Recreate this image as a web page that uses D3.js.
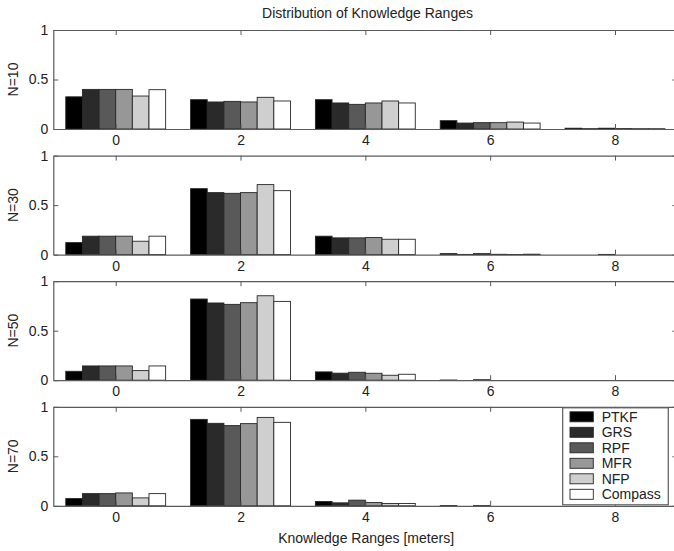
<!DOCTYPE html>
<html>
<head>
<meta charset="utf-8">
<script src="https://cdn.jsdelivr.net/npm/d3@7"></script>
<style>
  html, body { margin: 0; padding: 0; background: #fff; }
  svg { display: block; font-family: "Liberation Sans", Arial, sans-serif; }
</style>
</head>
<body>
<svg id="chart" width="674" height="551"></svg>
<script>
// Knowledge range bins (meters) and the estimation methods compared
const ranges = [0, 2, 4, 6, 8];
const methods = ["PTKF", "GRS", "RPF", "MFR", "NFP", "Compass"];
const panelLabels = ["N=10", "N=30", "N=50", "N=70"];
const yTicks = [0, 0.5, 1];

// Fraction of samples per range bin; one row per method, one column per range
const n10 = [
  [0.325, 0.296, 0.296, 0.084, 0.008],
  [0.400, 0.273, 0.263, 0.060, 0.003],
  [0.400, 0.279, 0.249, 0.064, 0.008],
  [0.400, 0.273, 0.263, 0.064, 0.004],
  [0.333, 0.320, 0.283, 0.070, 0.003],
  [0.397, 0.283, 0.263, 0.060, 0.003]
];
const n30 = [
  [0.121, 0.666, 0.186, 0.010, 0.000],
  [0.186, 0.626, 0.169, 0.002, 0.000],
  [0.186, 0.619, 0.169, 0.010, 0.002],
  [0.186, 0.626, 0.172, 0.003, 0.000],
  [0.135, 0.707, 0.155, 0.001, 0.000],
  [0.186, 0.646, 0.155, 0.004, 0.000]
];
const n50 = [
  [0.090, 0.820, 0.084, 0.002, 0.000],
  [0.144, 0.780, 0.071, 0.000, 0.000],
  [0.144, 0.766, 0.080, 0.005, 0.000],
  [0.144, 0.783, 0.070, 0.000, 0.000],
  [0.097, 0.853, 0.050, 0.000, 0.000],
  [0.144, 0.796, 0.060, 0.000, 0.000]
];
const n70 = [
  [0.073, 0.873, 0.043, 0.002, 0.000],
  [0.123, 0.833, 0.030, 0.000, 0.000],
  [0.123, 0.810, 0.057, 0.002, 0.000],
  [0.130, 0.830, 0.033, 0.000, 0.000],
  [0.080, 0.893, 0.023, 0.000, 0.000],
  [0.123, 0.843, 0.023, 0.000, 0.000]
];
const panelData = [n10, n30, n50, n70];

const fills = ["#000000", "#2a2a2a", "#595959", "#979797", "#cfcfcf", "#ffffff"];
const axisColor = "#5a5a5a";

const svg = d3.select("#chart");
const left = 53.3, right = 677.4;
const panelTop0 = 30, panelStep = 125.6, panelH = 99;

const x = d3.scaleLinear().domain([-1, 9]).range([left, right]);
// grouped bars occupy 80% of the spacing between bins
const groupW = x(1.6) - x(0);
const inner = d3.scaleBand().domain(methods).range([-groupW / 2, groupW / 2]).padding(0);
const color = d3.scaleOrdinal().domain(methods).range(fills);

svg.append("text")
  .attr("x", (263 + 472) / 2).attr("y", 17.5)
  .attr("text-anchor", "middle")
  .attr("font-size", 14).attr("fill", "#222")
  .text("Distribution of Knowledge Ranges");

panelData.forEach((rows, p) => {
  const top = panelTop0 + p * panelStep;
  const bottom = top + panelH;
  const y = d3.scaleLinear().domain([0, 1]).range([bottom, top]);
  const g = svg.append("g");

  const cells = [];
  rows.forEach((vals, m) => vals.forEach((v, r) => cells.push({ m: methods[m], r: ranges[r], v })));

  g.selectAll("rect.bar").data(cells).join("rect")
    .attr("class", "bar")
    .attr("x", d => x(d.r) + inner(d.m))
    .attr("width", inner.bandwidth())
    .attr("y", d => y(d.v))
    .attr("height", d => y(0) - y(d.v))
    .attr("fill", d => color(d.m))
    .attr("stroke", "#262626")
    .attr("stroke-width", 0.9);

  const styleAxis = sel => {
    sel.attr("color", axisColor).attr("font-size", 14)
      .attr("font-family", "'Liberation Sans', Arial, sans-serif");
    sel.selectAll("text").attr("fill", "#222");
    sel.select(".domain").attr("stroke-width", 1.2);
  };

  g.append("g").attr("transform", `translate(0,${bottom})`)
    .call(d3.axisBottom(x).tickValues(ranges).tickSize(-5).tickSizeOuter(0).tickPadding(6).tickFormat(d3.format("d")))
    .call(styleAxis);
  g.append("g").attr("transform", `translate(0,${top})`)
    .call(d3.axisTop(x).tickValues(ranges).tickSize(-5).tickSizeOuter(0).tickFormat(""))
    .call(styleAxis);
  g.append("g").attr("transform", `translate(${left},0)`)
    .call(d3.axisLeft(y).tickValues(yTicks).tickSize(-5).tickSizeOuter(0).tickPadding(5).tickFormat(d3.format("~g")))
    .call(styleAxis);
  g.append("g").attr("transform", `translate(${right},0)`)
    .call(d3.axisRight(y).tickValues(yTicks).tickSize(-5).tickSizeOuter(0).tickFormat(""))
    .call(styleAxis);

  g.append("text")
    .attr("transform", `translate(13,${(top + bottom) / 2}) rotate(-90)`)
    .attr("text-anchor", "middle").attr("dy", "0.35em")
    .attr("font-size", 14).attr("fill", "#222")
    .text(panelLabels[p]);

  if (p === panelData.length - 1) {
    const lg = g.append("g");
    const lx0 = 562.7, ly0 = top + 1, lw = 105.6, lh = panelH - 2;
    lg.append("rect").attr("x", lx0).attr("y", ly0).attr("width", lw).attr("height", lh)
      .attr("fill", "#fff").attr("stroke", axisColor).attr("stroke-width", 1.2);
    const rowY = i => ly0 + 9 + i * 15.5;
    lg.selectAll("rect.sw").data(methods).join("rect")
      .attr("class", "sw")
      .attr("x", lx0 + 7.3).attr("y", (d, i) => rowY(i) - 5)
      .attr("width", 23.3).attr("height", 10)
      .attr("fill", d => color(d)).attr("stroke", "#262626").attr("stroke-width", 0.9);
    lg.selectAll("text").data(methods).join("text")
      .attr("x", lx0 + 39).attr("y", (d, i) => rowY(i)).attr("dy", "0.35em")
      .attr("font-size", 14).attr("fill", "#222")
      .text(d => d);
  }
});

svg.append("text")
  .attr("x", (278.6 + 453.6) / 2).attr("y", 543)
  .attr("text-anchor", "middle")
  .attr("font-size", 14).attr("fill", "#222")
  .text("Knowledge Ranges [meters]");
</script>
</body>
</html>
